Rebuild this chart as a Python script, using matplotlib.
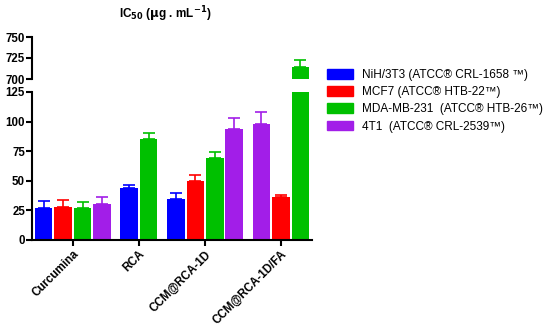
import numpy as np
import matplotlib
matplotlib.use("Agg")
import matplotlib.pyplot as plt

plt.rcParams['font.family'] = ['Liberation Sans', 'DejaVu Sans']
plt.rcParams['mathtext.default'] = 'bf'

groups = ["Curcumina", "RCA", "CCM@RCA-1D", "CCM@RCA-1D/FA"]
series = ["NiH/3T3 (ATCC® CRL-1658 ™)", "MCF7 (ATCC® HTB-22™)",
          "MDA-MB-231  (ATCC® HTB-26™)", "4T1  (ATCC® CRL-2539™)"]
colors = ["#0000FF", "#FF0000", "#00C000", "#A21EE8"]

# bars per group: (series index, mean, upper error)
curcumina = [(0, 26.8, 6.1), (1, 27.8, 6.0), (2, 27.3, 4.7), (3, 30.7, 5.3)]
rca = [(0, 43.6, 3.1), (2, 85.0, 5.0)]
ccm_1d = [(0, 34.6, 5.3), (1, 49.8, 5.1), (2, 69.5, 4.5), (3, 93.4, 9.3)]
ccm_1d_fa = [(3, 97.9, 9.9), (1, 36.3, 1.9), (2, 714.0, 8.5)]
data = [curcumina, rca, ccm_1d, ccm_1d_fa]

width = 0.9
group_gap = 0.4
margin = 0.1

fig = plt.figure(figsize=(5.5, 3.32), dpi=100)
ax_top = fig.add_axes([32/550, 1 - 79/332, 280/550, 42/332])
ax_bot = fig.add_axes([32/550, 1 - 240/332, 280/550, 148/332])

tick_pos = []
start = 0.0
for g, bars in enumerate(data):
    xs = start + np.arange(len(bars)) + 0.5
    tick_pos.append(xs.mean())
    for x, (s, val, err) in zip(xs, bars):
        for ax in (ax_top, ax_bot):
            ax.bar(x, val, width=width, color=colors[s], zorder=2)
            ax.errorbar(x, val, yerr=[[0], [err]], color=colors[s], capsize=4,
                        elinewidth=1.2, capthick=1.2, zorder=1)
    start += len(bars) + group_gap
total = start - group_gap

for ax in (ax_top, ax_bot):
    ax.set_xlim(-margin, total + margin)
    ax.spines['top'].set_visible(False)
    ax.spines['right'].set_visible(False)
    ax.spines['left'].set_linewidth(1.5)
    ax.tick_params(axis='y', width=1.5, length=4, labelsize=8.3, pad=1)

ax_top.set_ylim(700, 750)
ax_top.set_yticks([700, 725, 750])
ax_top.spines['bottom'].set_visible(False)
ax_top.set_xticks([])
ax_top.set_yticklabels(["700", "725", "750"], fontweight='bold')

ax_bot.set_ylim(0, 125)
ax_bot.set_yticks([0, 25, 50, 75, 100, 125])
ax_bot.set_yticklabels(["0", "25", "50", "75", "100", "125"], fontweight='bold')
ax_bot.spines['bottom'].set_linewidth(1.5)
ax_bot.set_xticks(tick_pos)
ax_bot.set_xticklabels(groups, rotation=45, ha='right', rotation_mode='anchor',
                       fontsize=8.3, fontweight='bold')
ax_bot.tick_params(axis='x', width=1.5, length=4, pad=2)

fig.text(165/550, 1 - 14/332, r"IC$_{50}$ ($\mu$g . mL$^{-1}$)", ha='center',
         va='center', fontsize=8.5, fontweight='bold')

handles = [plt.Rectangle((0, 0), 1, 1, color=c) for c in colors]
fig.legend(handles, series, loc='upper left', bbox_to_anchor=(322/550, 1 - 64/332),
           frameon=False, fontsize=8.5, handlelength=2.2, handleheight=0.9,
           handletextpad=0.8, labelspacing=0.45, borderaxespad=0)

fig.savefig("out.png", dpi=100)
